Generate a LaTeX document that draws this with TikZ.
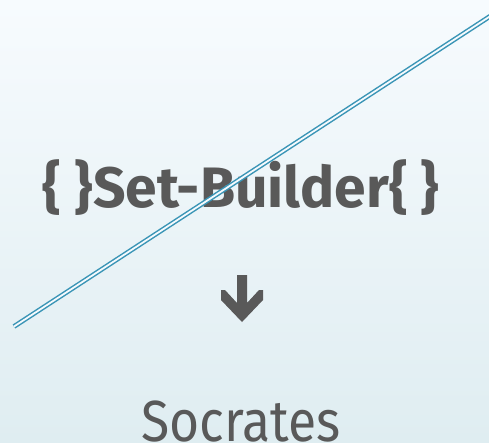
\documentclass[tikz,border=0pt]{standalone}
\usepackage{fontspec}
\setmainfont{Fira Sans}
\usepackage{xcolor}
\usepackage{tikz}
\usetikzlibrary{positioning,calc}

\definecolor{textgray}{HTML}{595959}
\definecolor{linkblue}{HTML}{3A95B6}
\definecolor{bgtop}{HTML}{F7FBFE}
\definecolor{bgmid}{HTML}{F2F8FB}
\definecolor{bgbot}{HTML}{DFEDF1}

\begin{document}
\begin{tikzpicture}[x=1pt,y=-1pt,
    headtext/.style={text=textgray,font=\fontsize{57}{62}\selectfont\bfseries,anchor=base,inner sep=0pt},
    nametext/.style={text=textgray,font=\fontsize{58}{62}\selectfont,anchor=base,inner sep=0pt}]
  % --- background ---
  \shade[top color=bgtop,middle color=bgmid,bottom color=bgbot] (0,0) rectangle (489,442);
  \useasboundingbox (0,0) rectangle (489,442);

  % --- texts ---
  \node[headtext] (setb) at (241,207) {\{ \}Set-Builder\{ \}};
  \node[nametext] (socr) at (241,441) {\scalebox{0.89}[1]{Socrates}};

  % --- block arrow ---
  \fill[textgray] (237,275) -- (247,275) -- (247,303) -- (259,290) -- (263,290)
    -- (263,300) -- (242,322) -- (221,300) -- (221,290) -- (225,290) -- (237,303) -- cycle;

  % --- double stroke ---
  \coordinate (lineA) at (14,326.5);
  \coordinate (lineB) at (492,15);
  \draw[linkblue,line width=1.5pt,double=bgtop!60!bgmid,double distance=1.8pt] (lineA) -- (lineB);
\end{tikzpicture}
\end{document}
